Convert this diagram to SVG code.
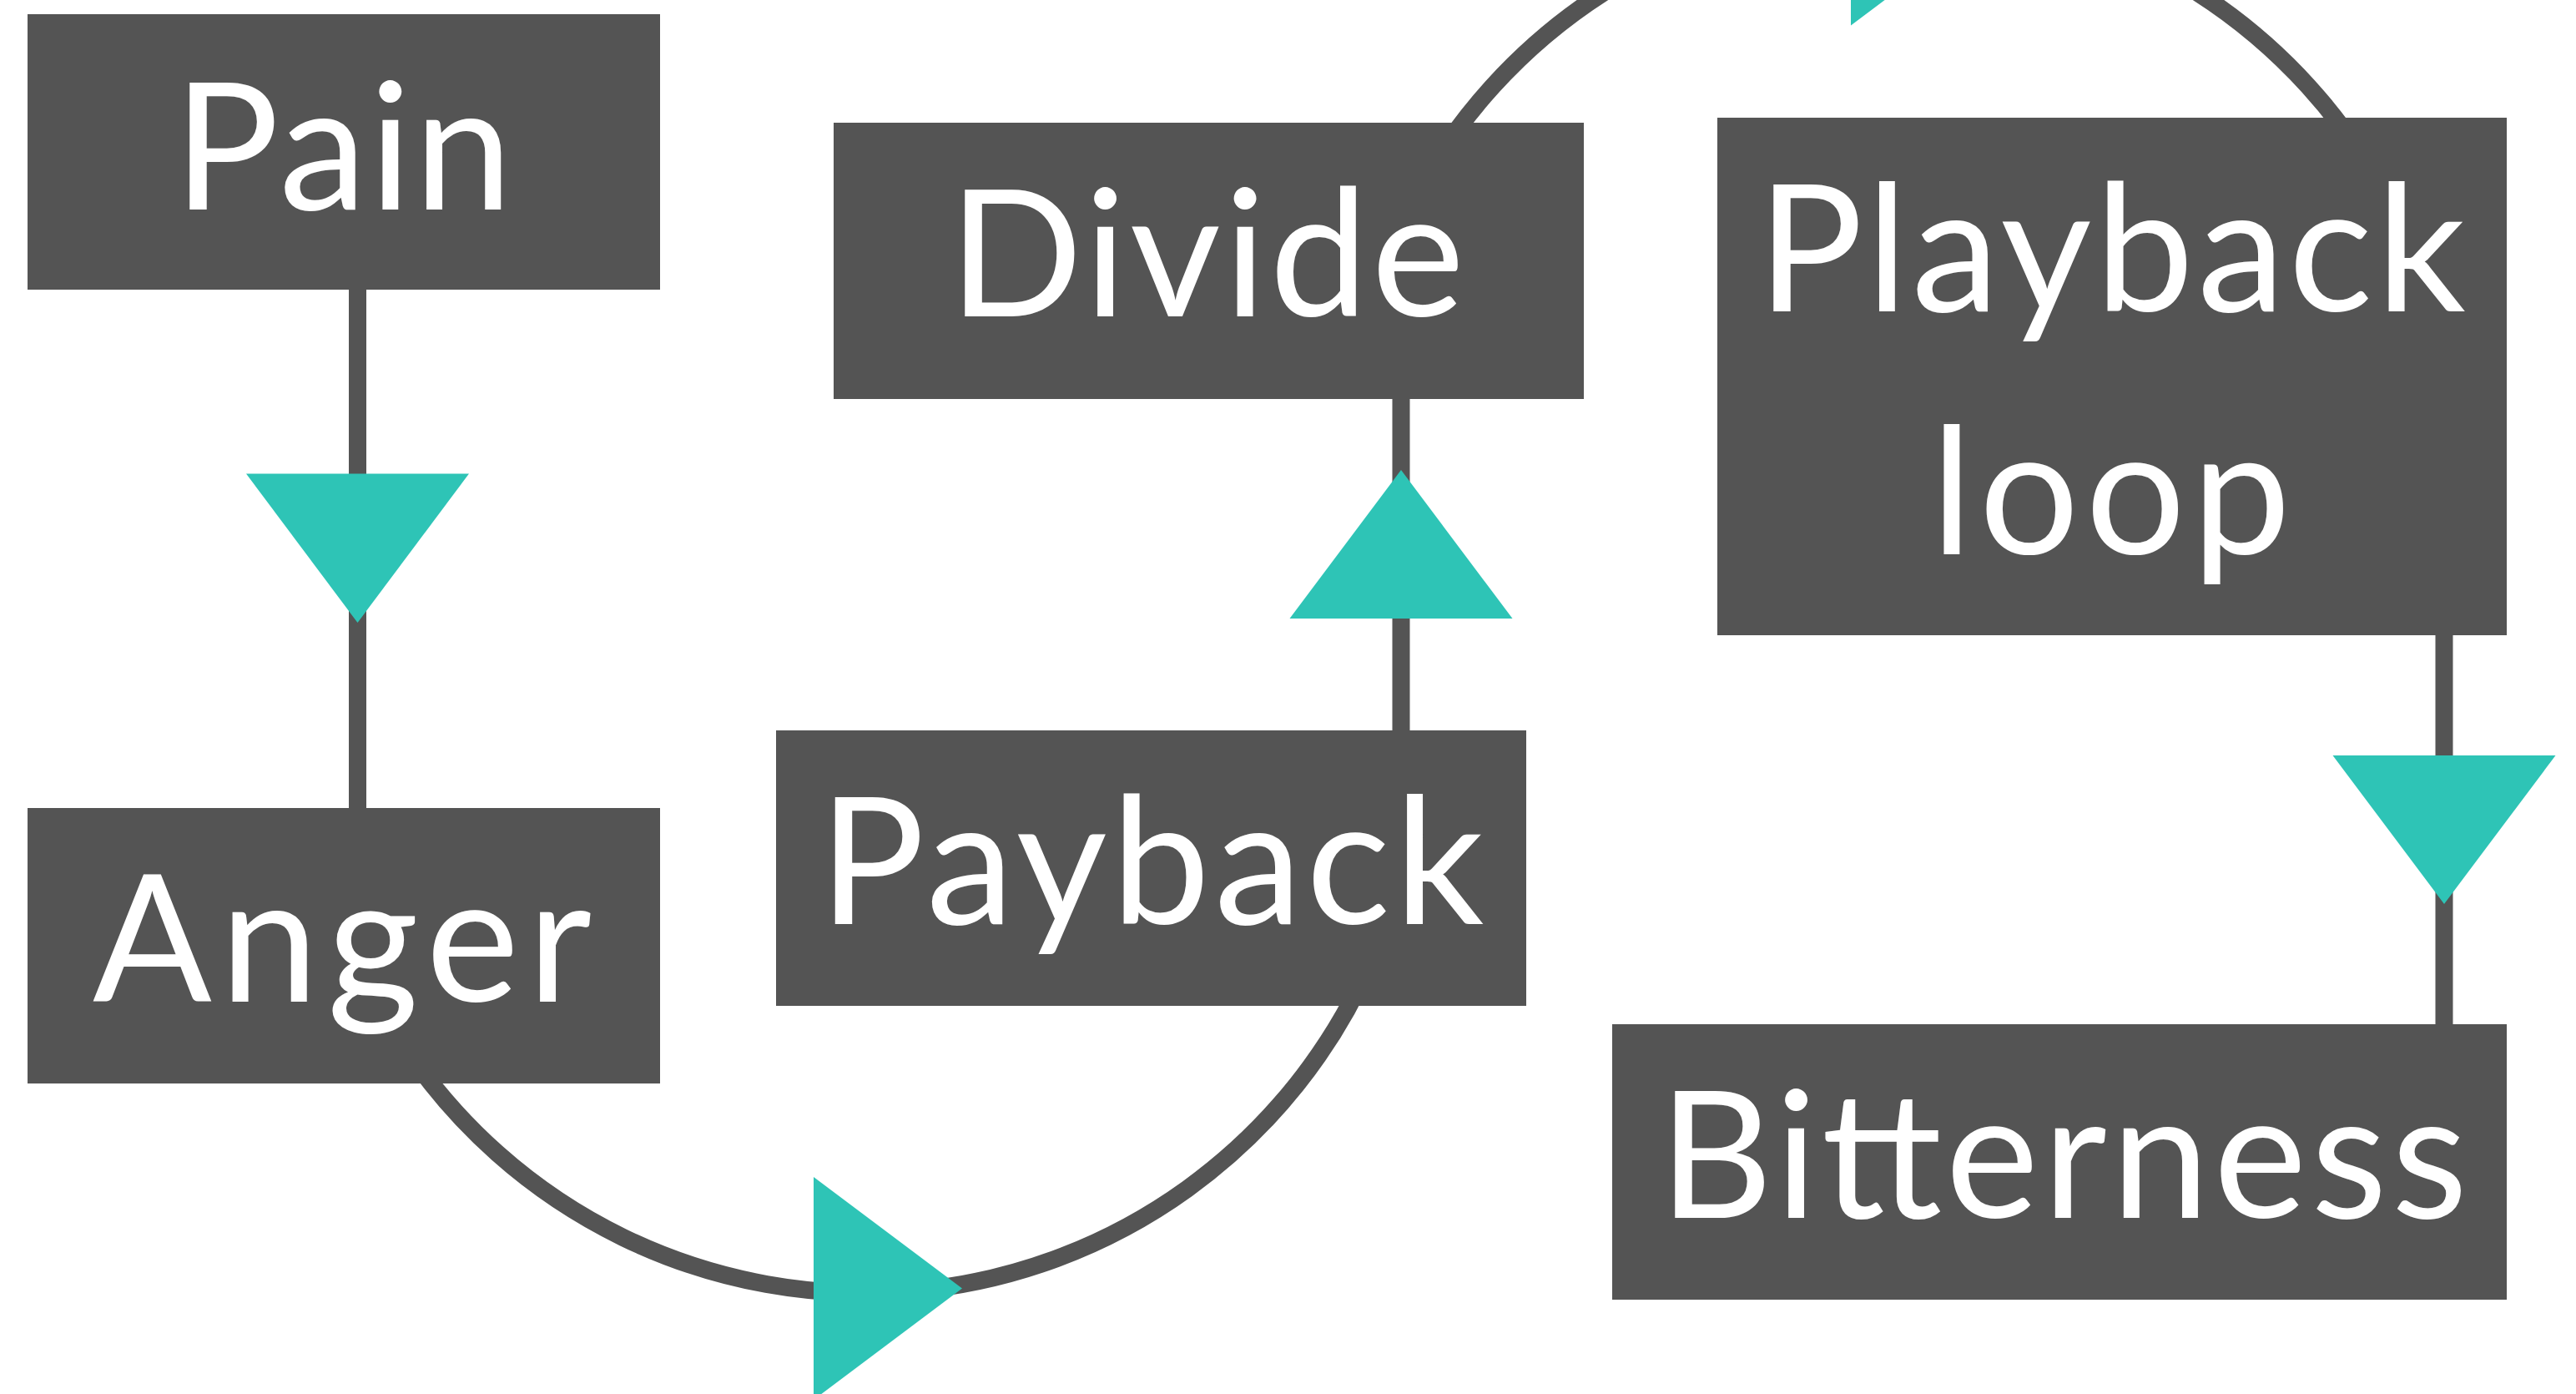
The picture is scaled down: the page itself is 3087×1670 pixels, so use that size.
<svg xmlns="http://www.w3.org/2000/svg" width="3087" height="1670" viewBox="0 0 3087 1670">
  <style>
    .box { fill: #545454; }
    .lbl { fill: #ffffff; font-family: Lato, "Liberation Sans", sans-serif; font-size: 211px; text-anchor: middle; }
    .wire { fill: none; stroke: #545454; stroke-width: 21; }
    .arrow { fill: #2EC4B6; }
  </style>
  <rect x="0" y="0" width="3087" height="1670" fill="#ffffff"/>
  <g id="connectors">
    <line class="wire" x1="428.5" y1="340" x2="428.5" y2="975"/>
    <line class="wire" x1="1679" y1="470" x2="1679" y2="882"/>
    <line class="wire" x1="2929" y1="755" x2="2929" y2="1234"/>
    <path class="wire" d="M 482.4 1250 A 662 662 0 0 0 1643.5 1150"/>
    <path class="wire" d="M 1688.1 250 A 660 660 0 0 1 2866.9 250"/>
    <polygon class="arrow" points="295,567.6 562,567.6 428.5,746"/>
    <polygon class="arrow" points="1545.5,741 1812.5,741 1679,563"/>
    <polygon class="arrow" points="2795.5,905 3062.5,905 2929,1083"/>
    <polygon class="arrow" points="975,1410 975,1677 1153,1543.5"/>
    <polygon class="arrow" points="2218,-236.5 2218,30.5 2396,-103"/>
  </g>
  <g id="node-pain">
    <rect class="box" x="33" y="17" width="758" height="330"/>
    <text class="lbl" x="411" y="250.6" textLength="406">Pain</text>
  </g>
  <g id="node-anger">
    <rect class="box" x="33" y="968" width="758" height="330"/>
    <text class="lbl" x="410" y="1200" textLength="598">Anger</text>
  </g>
  <g id="node-divide">
    <rect class="box" x="999" y="147" width="899" height="331"/>
    <text class="lbl" x="1446" y="379" textLength="618">Divide</text>
  </g>
  <g id="node-payback">
    <rect class="box" x="930" y="875" width="899" height="330"/>
    <text class="lbl" x="1380" y="1107" textLength="797">Payback</text>
  </g>
  <g id="node-playback-loop">
    <rect class="box" x="2058" y="141" width="946" height="620"/>
    <text class="lbl" x="2530.5" y="373" textLength="849">Playback</text>
    <text class="lbl" x="2529.5" y="664" textLength="431">loop</text>
  </g>
  <g id="node-bitterness">
    <rect class="box" x="1932" y="1227" width="1072" height="330"/>
    <text class="lbl" x="2472.5" y="1459" textLength="969">Bitterness</text>
  </g>
</svg>
